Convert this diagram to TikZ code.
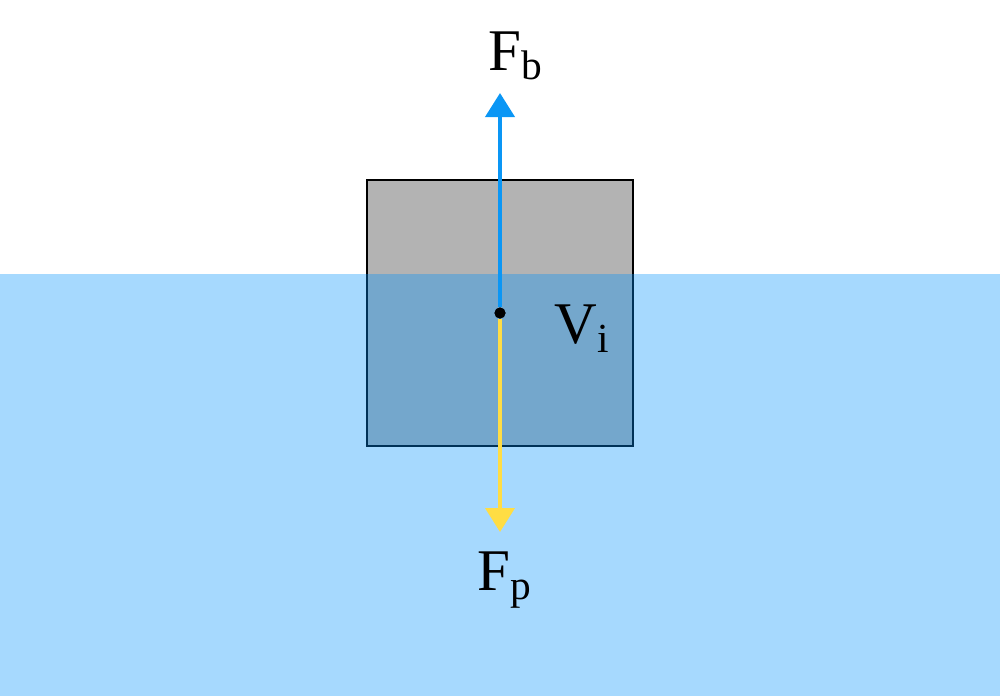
\documentclass[tikz,border=0pt]{standalone}
\usepackage{fontspec}
\setmainfont{Liberation Serif}
\usetikzlibrary{arrows.meta}
\definecolor{waterblue}{RGB}{0,146,251}
\definecolor{bodygray}{RGB}{179,179,179}
\definecolor{fbblue}{RGB}{10,150,245}
\definecolor{fpyellow}{RGB}{255,221,68}
\tikzstyle{body}=[draw=black, fill=bodygray, line width=0.45pt]
\tikzstyle{water}=[fill=waterblue, fill opacity=0.35]
\tikzstyle{force}=[draw, line width=1.15pt, -{Triangle[length=0.24cm,width=0.29cm]}]
\tikzstyle{label}=[inner sep=0pt, anchor=base west, font=\fontsize{16.8}{20}\selectfont]

\begin{document}
\begin{tikzpicture}[x=0.01cm, y=-0.01cm]
    \useasboundingbox (0,0) rectangle (1000,696);
    % The floating body, then the water over it
    \path[body] (367,180) rectangle (633,446);
    \path[water] (0,274) rectangle (1000,696);

    % Centre of the immersed volume and the arrow ends
    \node[circle, fill=black, inner sep=0pt, minimum size=0.11cm] (c) at (500,313) {};
    \coordinate (tb) at (500,93);
    \coordinate (tp) at (500,532);

    % Forces
    \foreach \dest/\col in {tb/fbblue, tp/fpyellow}
        \path[force, draw=\col, fill=\col] (c) -- (\dest);
    \node[circle, fill=black, inner sep=0pt, minimum size=0.11cm] at (c) {};

    % Labels
    \node[label] (Fb) at (488,70.7) {F\textsubscript{b}};
    \node[label] (Vi) at (554,343.3) {V\textsubscript{i}};
    \node[label] (Fp) at (476.7,590.7) {F\textsubscript{p}};
\end{tikzpicture}
\end{document}
